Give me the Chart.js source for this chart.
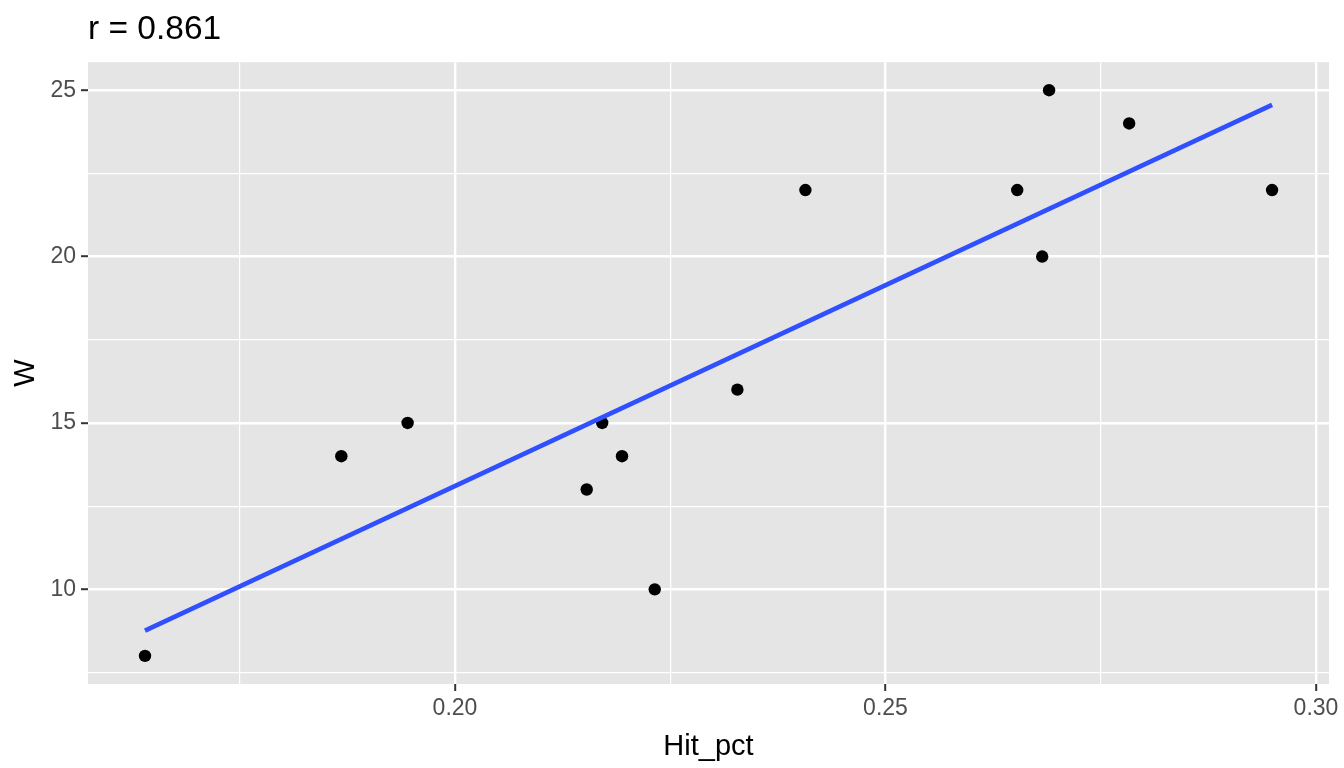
<!DOCTYPE html>
<html>
<head>
<meta charset="utf-8">
<script src="https://cdn.jsdelivr.net/npm/chart.js@4"></script>
<style>
  body { margin: 0; background: #fff; }
</style>
</head>
<body>
<canvas id="myChart" width="1344" height="768"></canvas>
<script>
const ctx = document.getElementById('myChart');

// team batting vs wins
const hitPct = [0.1640, 0.1868, 0.1945, 0.2153, 0.2171, 0.2194, 0.2232, 0.2328, 0.2407, 0.2653, 0.2682, 0.2690, 0.2783, 0.2949];
const wins   = [8, 14, 15, 13, 15, 14, 10, 16, 22, 22, 20, 25, 24, 22];

// fitted line ends
const fitX = [0.1640, 0.2949];
const fitY = [8.76, 24.56];

const xTicks = [0.175, 0.20, 0.225, 0.25, 0.275, 0.30];
const yTicks = [7.5, 10, 12.5, 15, 17.5, 20, 22.5, 25];
const xMajor = [0.20, 0.25, 0.30];
const yMajor = [10, 15, 20, 25];

const isMajor = (list, v) => list.some(m => Math.abs(m - v) < 1e-9);

const panelBg = {
    id: 'panelBg',
    beforeDraw(chart) {
        const a = chart.chartArea;
        const c = chart.ctx;
        c.save();
        c.fillStyle = '#E5E5E5';
        c.fillRect(a.left, a.top, a.right - a.left, a.bottom - a.top);
        c.restore();
    }
};

const font = 'Liberation Sans, Arial, sans-serif';

function gridFor(major) {
    return {
        color: '#FFFFFF',
        lineWidth: c => isMajor(major, c.tick.value) ? 2.4 : 1.2,
        tickColor: c => isMajor(major, c.tick.value) ? '#333333' : 'rgba(0,0,0,0)',
        tickWidth: 2,
        tickLength: 7,
        drawOnChartArea: true
    };
}

new Chart(ctx, {
    type: 'scatter',
    data: {
        datasets: [
            {
                type: 'line',
                label: 'fit',
                data: fitX.map((x, i) => ({x: x, y: fitY[i]})),
                borderColor: '#3050FF',
                borderWidth: 4.6,
                pointRadius: 0,
                fill: false
            },
            {
                label: 'W',
                data: hitPct.map((x, i) => ({x: x, y: wins[i]})),
                backgroundColor: '#000000',
                borderWidth: 0,
                pointRadius: 6.2
            }
        ]
    },
    options: {
        responsive: false,
        animation: false,
        layout: { padding: { left: 0, right: 15, top: 0, bottom: 0 } },
        plugins: {
            legend: { display: false },
            tooltip: { enabled: false },
            title: {
                display: true,
                text: 'r = 0.861',
                align: 'start',
                fullSize: false,
                color: '#000000',
                font: { family: font, size: 33.5, weight: 'normal' },
                padding: { top: 10, bottom: 12 }
            }
        },
        scales: {
            x: {
                type: 'linear',
                min: 0.15738,
                max: 0.30151,
                border: { display: false },
                grid: gridFor(xMajor),
                afterBuildTicks: axis => { axis.ticks = xTicks.map(v => ({value: v})); },
                afterFit: axis => { axis.height = 84; },
                ticks: {
                    color: '#4D4D4D',
                    font: { family: font, size: 23 },
                    padding: 4,
                    maxRotation: 0,
                    autoSkip: false,
                    callback: v => isMajor(xMajor, v) ? v.toFixed(2) : ''
                },
                title: {
                    display: true,
                    text: 'Hit_pct',
                    color: '#000000',
                    font: { family: font, size: 29 },
                    padding: { top: 0, bottom: 4 }
                }
            },
            y: {
                type: 'linear',
                min: 7.155,
                max: 25.841,
                border: { display: false },
                grid: gridFor(yMajor),
                afterBuildTicks: axis => { axis.ticks = yTicks.map(v => ({value: v})); },
                afterFit: axis => { axis.width = 88; },
                ticks: {
                    color: '#4D4D4D',
                    font: { family: font, size: 23 },
                    padding: 5,
                    autoSkip: false,
                    callback: v => isMajor(yMajor, v) ? String(v) : ''
                },
                title: {
                    display: true,
                    text: 'W',
                    color: '#000000',
                    font: { family: font, size: 29 },
                    padding: { top: 9, bottom: 0 }
                }
            }
        }
    },
    plugins: [panelBg]
});
</script>
</body>
</html>
